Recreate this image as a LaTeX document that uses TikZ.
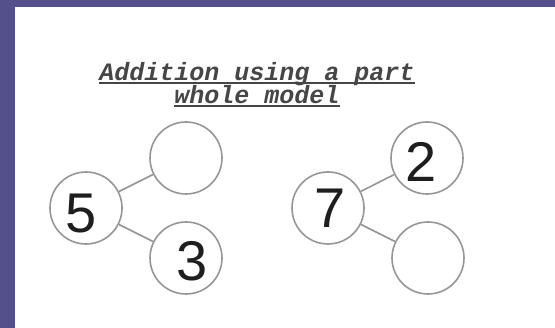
\documentclass[tikz,border=0pt]{standalone}
\usepackage{fontspec}
\setmainfont{Liberation Sans}
\newfontfamily\titlefont{Liberation Mono}
\definecolor{frame}{RGB}{84,80,140}
\definecolor{ringgray}{RGB}{150,150,150}
\definecolor{digitgray}{RGB}{30,30,30}
\definecolor{titlegray}{RGB}{70,70,70}
\begin{document}
\begin{tikzpicture}[x=1pt,y=-1pt,
  ring/.style={circle,draw=ringgray,line width=1.6pt,minimum size=72pt,inner sep=0pt},
  link/.style={draw=ringgray,line width=1.6pt},
  digit/.style={inner sep=0pt,text=digitgray,font=\fontsize{56}{56}\selectfont},
  titletext/.style={inner sep=0pt,anchor=base,text=titlegray,font=\titlefont\bfseries\itshape\fontsize{25}{26}\selectfont},
  uline/.style={draw=titlegray,line width=1.4pt}]
\fill[frame] (0,0) rectangle (555,328);
\fill[white] (15,7) rectangle (555,328);
\useasboundingbox (0,0) rectangle (555,328);
% title
\node[titletext] (t1) at (257,81) {Addition using a part};
\node[titletext] (t2) at (257,104) {whole model};
\draw[uline] ([yshift=-2pt]t1.base west) -- ([yshift=-2pt]t1.base east);
\draw[uline] ([yshift=-2pt]t2.base west) -- ([yshift=-2pt]t2.base east);
% left model
\node[ring] (w1) at (86,208) {};
\node[ring] (p1) at (186,158) {};
\node[ring] (q1) at (186,258) {};
\draw[link] (w1) -- (p1);
\draw[link] (w1) -- (q1);
\node[digit] (d5) at (81,214) {5};
\node[digit] (d3) at (192,261) {3};
% right model
\node[ring] (w2) at (328,208) {};
\node[ring] (p2) at (427,158) {};
\node[ring] (q2) at (428,258) {};
\draw[link] (w2) -- (p2);
\draw[link] (w2) -- (q2);
\node[digit] (d7) at (330,208) {7};
\node[digit] (d2) at (421,162) {2};
\end{tikzpicture}
\end{document}
